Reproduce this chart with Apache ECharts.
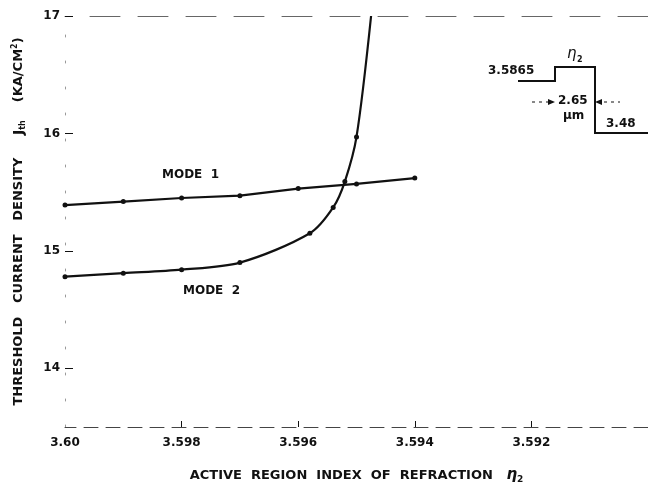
<!DOCTYPE html>
<html lang="en">
<head>
    <meta charset="UTF-8">
    <title>Threshold current density vs index</title>
    <script src="https://cdn.jsdelivr.net/npm/echarts@6/dist/echarts.min.js"></script>
    <style>
        html, body { margin: 0; padding: 0; background: #fff; }
        #main { width: 648px; height: 482px; }
    </style>
</head>
<body>
<div id="main"></div>
<script>
    // index of refraction of the active region (x) and threshold current density (y)
    var mode1X = [3.600, 3.599, 3.598, 3.597, 3.596, 3.595, 3.594];
    var mode1Y = [15.39, 15.42, 15.45, 15.47, 15.53, 15.57, 15.62];
    var mode2X = [3.600, 3.599, 3.598, 3.597, 3.5958, 3.5954, 3.5952, 3.5950, 3.59475];
    var mode2Y = [14.78, 14.81, 14.84, 14.90, 15.15, 15.37, 15.59, 15.97, 17.0];
    var xTicks = [3.592, 3.594, 3.596, 3.598, 3.600];
    var yTicks = [14, 15, 16, 17];

    var font = 'DejaVu Sans';
    var ink = '#111';

    function pairs(xs, ys) {
        var out = [];
        for (var i = 0; i < xs.length; i++) {
            out.push([xs[i], ys[i]]);
        }
        return out;
    }

    var m2 = pairs(mode2X, mode2Y);
    // the last point only marks where the curve leaves the frame
    m2[m2.length - 1] = { value: m2[m2.length - 1], symbol: 'none' };

    var myChart = echarts.init(document.getElementById('main'));

    var option = {
        animation: false,
        backgroundColor: '#fff',
        grid: { left: 65, right: 0, top: 16, bottom: 55, outerBoundsMode: 'none' },
        xAxis: [{
            type: 'value',
            inverse: true,
            min: 3.590,
            max: 3.600,
            interval: 0.002,
            name: 'ACTIVE  REGION  INDEX  OF  REFRACTION   {e|η}{s|2}',
            nameLocation: 'middle',
            nameGap: 40,
            nameTextStyle: {
                fontFamily: font, fontSize: 13, fontWeight: 'bold', color: ink,
                rich: {
                    e: { fontFamily: font, fontSize: 15, color: ink, fontStyle: 'italic' },
                    s: { fontFamily: font, fontSize: 9, color: ink, verticalAlign: 'bottom', padding: [8, 0, 0, 0] }
                }
            },
            axisLine: { show: true, lineStyle: { color: '#444', width: 1, type: [14, 8] } },
            axisTick: { show: true, inside: true, length: 6, customValues: xTicks.slice(0, 4), lineStyle: { color: ink } },
            axisLabel: {
                customValues: xTicks,
                margin: 10,
                fontFamily: font, fontSize: 12, fontWeight: 'bold', color: ink,
                formatter: function (v) {
                    return Math.abs(v - 3.6) < 1e-9 ? '3.60' : v.toFixed(3);
                }
            },
            splitLine: { show: false }
        }, {
            type: 'value',
            position: 'top',
            inverse: true,
            min: 3.590,
            max: 3.600,
            axisLine: { show: true, lineStyle: { color: '#666', width: 1, type: [30, 18] } },
            axisTick: { show: false },
            axisLabel: { show: false },
            splitLine: { show: false }
        }],
        yAxis: {
            type: 'value',
            min: 13.5,
            max: 17,
            interval: 0.5,
            name: 'THRESHOLD   CURRENT   DENSITY     {j|J}{t|th}    (KA/CM{p|2})',
            nameLocation: 'middle',
            nameRotate: 90,
            nameGap: 38,
            nameTextStyle: {
                fontFamily: font, fontSize: 13, fontWeight: 'bold', color: ink,
                rich: {
                    j: { fontFamily: font, fontSize: 14, fontWeight: 'bold', color: ink },
                    t: { fontFamily: font, fontSize: 8, fontWeight: 'bold', color: ink, padding: [8, 0, 0, 0] },
                    p: { fontFamily: font, fontSize: 8, fontWeight: 'bold', color: ink, padding: [0, 0, 8, 0] }
                }
            },
            axisLine: { show: true, lineStyle: { color: '#999', width: 1, type: [2, 24] } },
            axisTick: { show: true, inside: true, length: 8, customValues: yTicks, lineStyle: { color: ink } },
            axisLabel: {
                customValues: yTicks,
                margin: 5,
                fontFamily: font, fontSize: 12, fontWeight: 'bold', color: ink
            },
            splitLine: { show: false }
        },
        series: [{
            name: 'MODE 1',
            type: 'line',
            data: pairs(mode1X, mode1Y),
            symbol: 'circle',
            symbolSize: 5,
            smooth: false,
            itemStyle: { color: ink },
            lineStyle: { color: ink, width: 2.2 }
        }, {
            name: 'MODE 2',
            type: 'line',
            data: m2,
            symbol: 'circle',
            symbolSize: 5,
            smooth: 0.3,
            clip: true,
            itemStyle: { color: ink },
            lineStyle: { color: ink, width: 2.2 }
        }],
        graphic: [
            { type: 'text', left: 162, top: 169, style: { text: 'MODE  1', font: 'bold 12px "DejaVu Sans"', fill: ink } },
            { type: 'text', left: 183, top: 285, style: { text: 'MODE  2', font: 'bold 12px "DejaVu Sans"', fill: ink } },
            // index step inset
            {
                type: 'polyline',
                shape: { points: [[518, 81], [555, 81], [555, 67], [595, 67], [595, 133], [648, 133]] },
                style: { stroke: ink, lineWidth: 2, fill: null }
            },
            { type: 'text', left: 488, top: 65, style: { text: '3.5865', font: 'bold 12px "DejaVu Sans"', fill: ink } },
            { type: 'text', left: 567, top: 47, style: { text: 'η', font: 'italic 15px "DejaVu Sans"', fill: ink } },
            { type: 'text', left: 577, top: 56, style: { text: '2', font: 'bold 8px "DejaVu Sans"', fill: ink } },
            { type: 'text', left: 558, top: 95, style: { text: '2.65', font: 'bold 12px "DejaVu Sans"', fill: ink } },
            { type: 'text', left: 563, top: 110, style: { text: 'μm', font: 'bold 12px "DejaVu Sans"', fill: ink } },
            { type: 'text', left: 606, top: 118, style: { text: '3.48', font: 'bold 12px "DejaVu Sans"', fill: ink } },
            {
                type: 'polyline',
                shape: { points: [[532, 102], [553, 102]] },
                style: { stroke: ink, lineWidth: 1, lineDash: [3, 4] }
            },
            {
                type: 'polygon',
                shape: { points: [[555, 102], [548, 99], [548, 105]] },
                style: { fill: ink }
            },
            {
                type: 'polyline',
                shape: { points: [[597, 102], [620, 102]] },
                style: { stroke: ink, lineWidth: 1, lineDash: [3, 4] }
            },
            {
                type: 'polygon',
                shape: { points: [[595, 102], [602, 99], [602, 105]] },
                style: { fill: ink }
            }
        ]
    };

    myChart.setOption(option);
</script>
</body>
</html>
